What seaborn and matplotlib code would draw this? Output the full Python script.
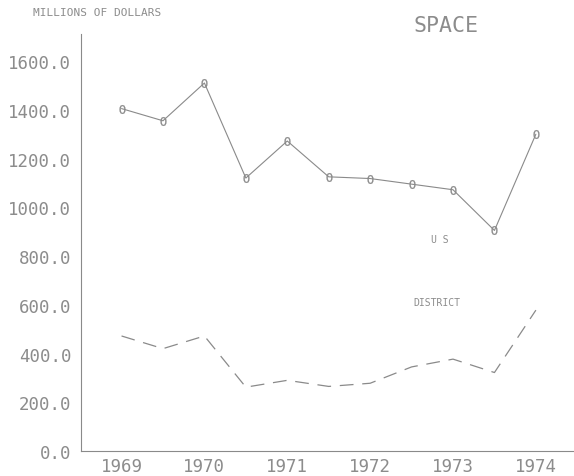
import numpy as np
import pandas as pd
import matplotlib
matplotlib.use("Agg")
import matplotlib.pyplot as plt
import seaborn as sns

# half-year steps, 1969 .. 1974
periods = [1969.0, 1969.5, 1970.0, 1970.5, 1971.0, 1971.5,
           1972.0, 1972.5, 1973.0, 1973.5, 1974.0]
us_values = [1405, 1355, 1510, 1120, 1272, 1125, 1118, 1095, 1072, 905, 1300]
district_values = [472, 420, 472, 262, 290, 265, 278, 345, 377, 322, 578]
year_ticks = [1969, 1970, 1971, 1972, 1973, 1974]
y_ticks = [0, 200, 400, 600, 800, 1000, 1200, 1400, 1600]

sns.set_style("white")
plt.rcParams["font.family"] = ["DejaVu Sans Mono"]

ink = "#8c8c8c"
line_ink = "#8a8a8a"

df = pd.DataFrame({"period": periods, "US": us_values, "DISTRICT": district_values})

fig = plt.figure(figsize=(5.74, 4.77), dpi=100)
ax = fig.add_axes([0.141, 0.0524, 0.859, 0.8742])

sns.lineplot(data=df, x="period", y="US", ax=ax, color=line_ink, linewidth=0.8)
sns.scatterplot(data=df, x="period", y="US", ax=ax, marker="$0$", s=40,
                color=line_ink, linewidth=0.2, edgecolor=line_ink)
sns.lineplot(data=df, x="period", y="DISTRICT", ax=ax, color=line_ink,
             linewidth=0.9)
ax.lines[-1].set_dashes((11, 7))

ax.set_xlim(1968.51, 1974.46)
ax.set_ylim(0, 1711)
ax.set_xlabel("")
ax.set_ylabel("")

ax.set_yticks(y_ticks)
ax.set_yticklabels([f"{v:.1f}" for v in y_ticks], fontsize=12.5, color=ink)
ax.set_xticks(year_ticks)
ax.set_xticklabels([str(y) for y in year_ticks], fontsize=12.5, color=ink)
ax.set_xticks([y + 0.5 for y in year_ticks[:-1]], minor=True)

ax.tick_params(axis="y", direction="out", length=2, width=0.8, color=ink, pad=5)
ax.tick_params(axis="x", which="major", direction="inout", length=4.5, width=0.8,
               color=ink, pad=2)
ax.tick_params(axis="x", which="minor", direction="inout", length=10, width=0.8,
               color=ink)

for side in ["top", "right"]:
    ax.spines[side].set_visible(False)
for side in ["left", "bottom"]:
    ax.spines[side].set_color(line_ink)
    ax.spines[side].set_linewidth(0.8)

ax.text(1972.84, 870, "U S", fontsize=7, color=ink, ha="center", va="center")
ax.text(1972.81, 611, "DISTRICT", fontsize=7, color=ink, ha="center", va="center")

fig.text(0.058, 0.972, "MILLIONS OF DOLLARS", fontsize=8, color=ink,
         ha="left", va="center")
fig.text(0.777, 0.945, "SPACE", fontsize=15.5, color=ink, ha="center", va="center")

fig.savefig("out.png", dpi=100)
